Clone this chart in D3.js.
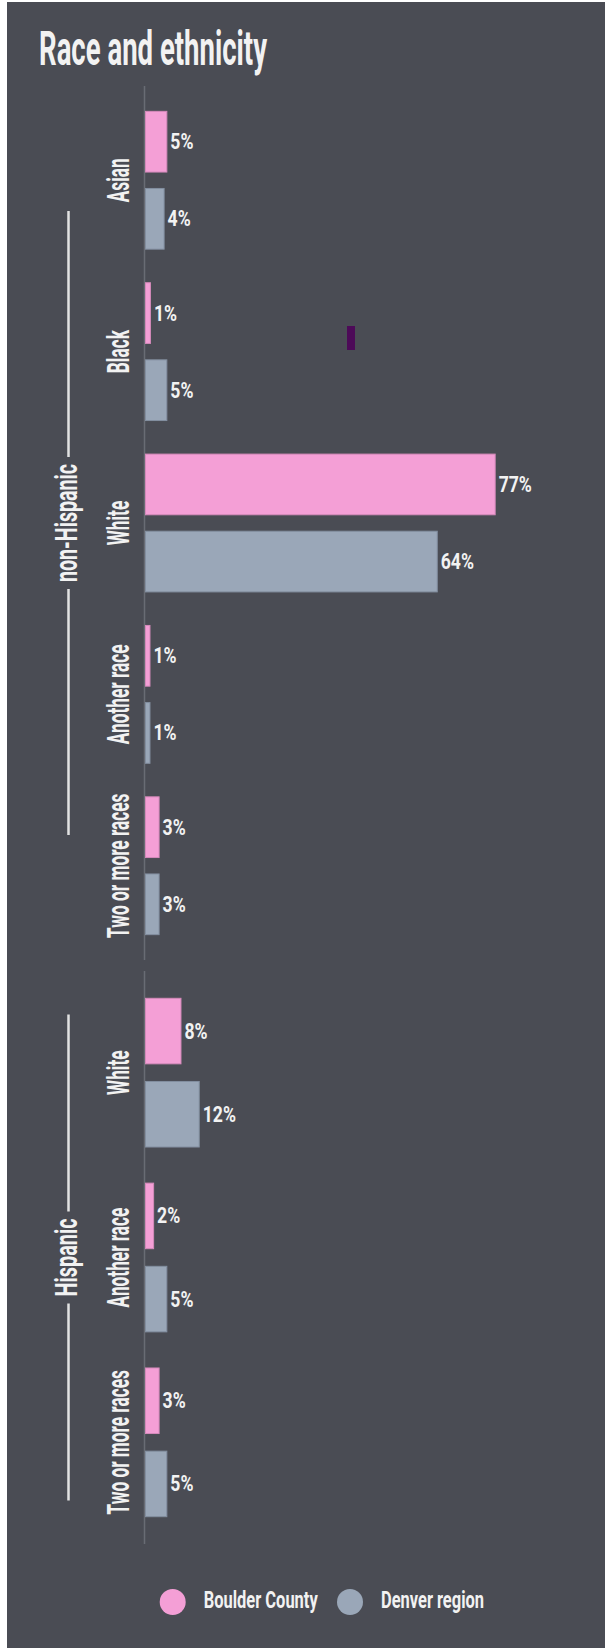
<!DOCTYPE html>
<html lang="en">
    <head>
        <meta charset="utf-8">
        <title>Race and ethnicity</title>
        <script type="text/javascript" src="https://cdn.jsdelivr.net/npm/d3@7"></script>
        <style>
            body { margin: 0; background: #fff; }
            text { font-family: Roboto, "Noto Sans", sans-serif; fill: #f2f2f2; }
        </style>
    </head>
    <body>
        <script type="text/javascript">

            // data
            var groups = ["non-Hispanic", "Hispanic"];
            var nonHispanicCats = ["Asian", "Black", "White", "Another race", "Two or more races"];
            var hispanicCats = ["White", "Another race", "Two or more races"];
            var seriesNames = ["Boulder County", "Denver region"];
            var boulderNonHisp = [4.9, 1.3, 76.9, 1.2, 3.2];
            var denverNonHisp = [4.3, 4.9, 64.2, 1.2, 3.2];
            var boulderHisp = [8.0, 2.0, 3.2];
            var denverHisp = [12.0, 4.9, 4.9];

            var w = 605;
            var h = 1648;
            var colors = ["#f49fd6", "#9aa7b8"];
            var strokes = ["#d58abb", "#838fa0"];

            d3.select("svg").remove();
            var svg = d3.select("body")
                .append("svg")
                .attr("width", w)
                .attr("height", h);

            // background panel
            svg.append("rect")
                .attr("x", 7).attr("y", 2)
                .attr("width", w - 7).attr("height", h - 2)
                .attr("fill", "#4a4c54");

            svg.append("text")
                .text("Race and ethnicity")
                .attr("x", 39)
                .attr("y", 65)
                .attr("font-size", 49)
                .attr("font-weight", 700)
                .attr("textLength", 228)
                .attr("lengthAdjust", "spacingAndGlyphs");

            var x = d3.scaleLinear().domain([0, 80]).range([145, 145 + 80 * 4.56]);
            var sub = d3.scaleBand().domain([0, 1]).paddingInner(0.2);

            var blocks = [
                {name: groups[0], cats: nonHispanicCats, vals: [boulderNonHisp, denverNonHisp],
                 range: [86, 960], lineHalf: 312, textLen: 118},
                {name: groups[1], cats: hispanicCats, vals: [boulderHisp, denverHisp],
                 range: [971, 1544], lineHalf: 243, textLen: 78}
            ];

            blocks.forEach(function(b) {
                var y = d3.scaleBand()
                    .domain(b.cats)
                    .range(b.range)
                    .paddingInner(0.19)
                    .paddingOuter(0.145);
                sub.range([0, y.bandwidth()]);

                // axis line
                svg.append("line")
                    .attr("x1", 144.5).attr("x2", 144.5)
                    .attr("y1", b.range[0]).attr("y2", b.range[1])
                    .attr("stroke", "#696c74")
                    .attr("stroke-width", 1.5);

                var rows = [];
                b.cats.forEach(function(c, i) {
                    rows.push({cat: c, s: 0, v: b.vals[0][i]});
                    rows.push({cat: c, s: 1, v: b.vals[1][i]});
                });

                var g = svg.append("g");
                g.selectAll("rect")
                    .data(rows)
                    .enter()
                    .append("rect")
                    .attr("x", x(0) + 0.5)
                    .attr("y", function(d) { return y(d.cat) + sub(d.s) + 0.5; })
                    .attr("width", function(d) { return x(d.v) - x(0) - 1; })
                    .attr("height", sub.bandwidth() - 1)
                    .attr("fill", function(d) { return colors[d.s]; })
                    .attr("stroke", function(d) { return strokes[d.s]; })
                    .attr("stroke-width", 1);

                g.selectAll("text.val")
                    .data(rows)
                    .enter()
                    .append("text")
                    .attr("class", "val")
                    .text(function(d) { return Math.round(d.v) + "%"; })
                    .attr("font-size", 22)
                    .attr("font-weight", 700)
                    .attr("transform", function(d) {
                        var cy = y(d.cat) + sub(d.s) + sub.bandwidth() / 2;
                        return "translate(" + (x(d.v) + 3) + "," + (cy + 7.5) + ") scale(0.8,1)";
                    });

                // category labels, rotated
                g.selectAll("text.cat")
                    .data(b.cats)
                    .enter()
                    .append("text")
                    .attr("class", "cat")
                    .text(function(d) { return d; })
                    .attr("text-anchor", "middle")
                    .attr("font-size", 32)
                    .attr("font-weight", 700)
                    .attr("transform", function(d) {
                        return "translate(129," + (y(d) + y.bandwidth() / 2) + ") rotate(-90) scale(0.54,1)";
                    });

                // group label with bracket line
                var mid = (b.range[0] + b.range[1]) / 2;
                var gap = b.textLen / 2 + 7;
                svg.append("line")
                    .attr("x1", 68.5).attr("x2", 68.5)
                    .attr("y1", mid - b.lineHalf).attr("y2", mid - gap)
                    .attr("stroke", "#e2e2e2").attr("stroke-width", 2.5);
                svg.append("line")
                    .attr("x1", 68.5).attr("x2", 68.5)
                    .attr("y1", mid + gap).attr("y2", mid + b.lineHalf)
                    .attr("stroke", "#e2e2e2").attr("stroke-width", 2.5);
                svg.append("text")
                    .text(b.name)
                    .attr("text-anchor", "middle")
                    .attr("font-size", 32)
                    .attr("font-weight", 700)
                    .attr("textLength", b.textLen)
                    .attr("lengthAdjust", "spacingAndGlyphs")
                    .attr("transform", "translate(77," + mid + ") rotate(-90)");
            });

            // stray marker seen in the original
            svg.append("rect")
                .attr("x", 347).attr("y", 326)
                .attr("width", 8).attr("height", 24)
                .attr("fill", "#4d0a58");

            // legend
            var legendX = [172.7, 350];
            var legendLen = [114, 103];
            var lg = svg.selectAll("g.legend")
                .data(seriesNames)
                .enter()
                .append("g")
                .attr("class", "legend")
                .attr("transform", function(d, i) { return "translate(" + legendX[i] + ",1602)"; });
            lg.append("circle")
                .attr("r", 13)
                .attr("fill", function(d, i) { return colors[i]; });
            lg.append("text")
                .text(function(d) { return d; })
                .attr("x", 31)
                .attr("y", 5.5)
                .attr("font-size", 23)
                .attr("font-weight", 700)
                .attr("textLength", function(d, i) { return legendLen[i]; })
                .attr("lengthAdjust", "spacingAndGlyphs");

        </script>
    </body>
</html>
